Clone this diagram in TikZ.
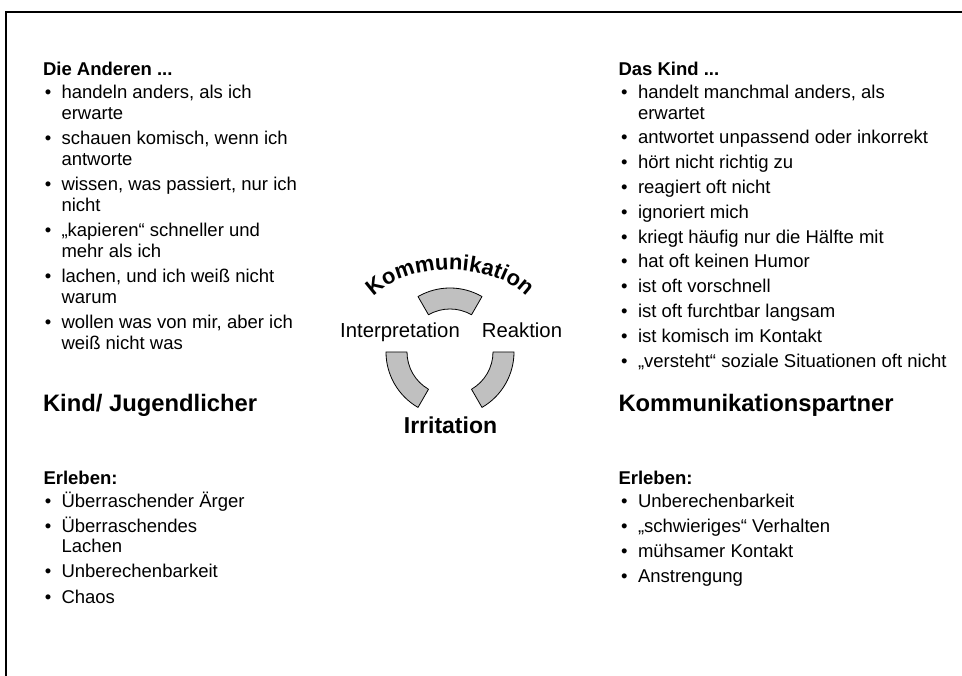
\documentclass[tikz,border=0pt]{standalone}
\usepackage{fontspec}
\setmainfont{Liberation Sans}
\usetikzlibrary{calc,decorations.text}
\definecolor{segfill}{RGB}{192,192,192}
\newcommand\kommfont{\fontsize{22}{26}\selectfont\bfseries}
\begin{document}
\begin{tikzpicture}[x=1pt,y=-1pt,
  txt/.style={anchor=base west, inner sep=0pt, outer sep=0pt, font=\fontsize{18.5}{21}\selectfont},
  txtb/.style={txt, font=\fontsize{18.5}{21}\selectfont\bfseries},
  headline/.style={anchor=base west, inner sep=0pt, outer sep=0pt, font=\fontsize{23.8}{28}\selectfont\bfseries},
  cyclab/.style={anchor=base, inner sep=0pt, outer sep=0pt, font=\fontsize{20.3}{24}\selectfont},
  cyclabb/.style={cyclab, font=\fontsize{23}{27}\selectfont\bfseries},
  segment/.style={fill=segfill, draw=black, line width=0.8pt, line join=round},
  frameline/.style={line width=1.5pt}]

\useasboundingbox (0,0) rectangle (962,676);

% frame: top and left edge
\coordinate (ftr) at (964,12);
\coordinate (ftl) at (6,12);
\coordinate (fbl) at (6,678);
\draw[frameline] (ftr) -- (ftl) -- (fbl);

% ---------- left upper list ----------
\node[txtb] (dah) at (43,75.5) {Die Anderen ...};
\node[txt] (lb1) at (45,99) {•};  \node[txt] (l1a) at (61.5,99) {handeln anders, als ich};
\node[txt] (l1b) at (61.5,120) {erwarte};
\node[txt] (lb2) at (45,145) {•}; \node[txt] (l2a) at (61.5,145) {schauen komisch, wenn ich};
\node[txt] (l2b) at (61.5,166) {antworte};
\node[txt] (lb3) at (45,191) {•}; \node[txt] (l3a) at (61.5,191) {wissen, was passiert, nur ich};
\node[txt] (l3b) at (61.5,212) {nicht};
\node[txt] (lb4) at (45,237) {•}; \node[txt] (l4a) at (61.5,237) {„kapieren“ schneller und};
\node[txt] (l4b) at (61.5,258) {mehr als ich};
\node[txt] (lb5) at (45,283) {•}; \node[txt] (l5a) at (61.5,283) {lachen, und ich weiß nicht};
\node[txt] (l5b) at (61.5,304) {warum};
\node[txt] (lb6) at (45,329) {•}; \node[txt] (l6a) at (61.5,329) {wollen was von mir, aber ich};
\node[txt] (l6b) at (61.5,350) {weiß nicht was};

% ---------- right upper list ----------
\node[txtb] (dkh) at (618.5,75.5) {Das Kind ...};
\node[txt] (rb1) at (621,99) {•}; \node[txt] (r1a) at (638,99) {handelt manchmal anders, als};
\node[txt] (r1b) at (638,120) {erwartet};
\node[txt] (rb2) at (621,144) {•}; \node[txt] (r2) at (638,144) {antwortet unpassend oder inkorrekt};
\node[txt] (rb3) at (621,168.8) {•}; \node[txt] (r3) at (638,168.8) {hört nicht richtig zu};
\node[txt] (rb4) at (621,193.6) {•}; \node[txt] (r4) at (638,193.6) {reagiert oft nicht};
\node[txt] (rb5) at (621,218.4) {•}; \node[txt] (r5) at (638,218.4) {ignoriert mich};
\node[txt] (rb6) at (621,243.2) {•}; \node[txt] (r6) at (638,243.2) {kriegt häufig nur die Hälfte mit};
\node[txt] (rb7) at (621,268) {•}; \node[txt] (r7) at (638,268) {hat oft keinen Humor};
\node[txt] (rb8) at (621,292.8) {•}; \node[txt] (r8) at (638,292.8) {ist oft vorschnell};
\node[txt] (rb9) at (621,317.6) {•}; \node[txt] (r9) at (638,317.6) {ist oft furchtbar langsam};
\node[txt] (rb10) at (621,342.4) {•}; \node[txt] (r10) at (638,342.4) {ist komisch im Kontakt};
\node[txt] (rb11) at (621,367.2) {•}; \node[txt] (r11) at (638,367.2) {„versteht“ soziale Situationen oft nicht};

% ---------- headings ----------
\node[headline] (kjh) at (43,412) {Kind/ Jugendlicher};
\node[headline] (kph) at (618.5,412) {Kommunikationspartner};

% ---------- left lower list ----------
\node[txtb] (leh) at (43.5,484.5) {Erleben:};
\node[txt] (llb1) at (45,507) {•}; \node[txt] (ll1) at (61.5,507) {Überraschender Ärger};
\node[txt] (llb2) at (45,532) {•}; \node[txt] (ll2a) at (61.5,532) {Überraschendes};
\node[txt] (ll2b) at (61.5,552) {Lachen};
\node[txt] (llb3) at (45,577) {•}; \node[txt] (ll3) at (61.5,577) {Unberechenbarkeit};
\node[txt] (llb4) at (45,603) {•}; \node[txt] (ll4) at (61.5,603) {Chaos};

% ---------- right lower list ----------
\node[txtb] (reh) at (618.5,484.5) {Erleben:};
\node[txt] (rlb1) at (621,507) {•}; \node[txt] (rl1) at (638,507) {Unberechenbarkeit};
\node[txt] (rlb2) at (621,532) {•}; \node[txt] (rl2) at (638,532) {„schwieriges“ Verhalten};
\node[txt] (rlb3) at (621,557) {•}; \node[txt] (rl3) at (638,557) {mühsamer Kontakt};
\node[txt] (rlb4) at (621,582) {•}; \node[txt] (rl4) at (638,582) {Anstrengung};

% ---------- communication cycle ----------
\coordinate (rc) at (450,352);
\draw[segment] ($(rc)+(60:64pt)$) arc[start angle=60,end angle=120,radius=64pt]
  -- ($(rc)+(120:43pt)$) arc[start angle=120,end angle=60,radius=43pt] -- cycle;
\draw[segment] ($(rc)+(180:64pt)$) arc[start angle=180,end angle=240,radius=64pt]
  -- ($(rc)+(240:43pt)$) arc[start angle=240,end angle=180,radius=43pt] -- cycle;
\draw[segment] ($(rc)+(300:64pt)$) arc[start angle=300,end angle=360,radius=64pt]
  -- ($(rc)+(360:43pt)$) arc[start angle=360,end angle=300,radius=43pt] -- cycle;

\node[cyclab] (interp) at (400,337.5) {Interpretation};
\node[cyclab] (reakt) at (522,337.5) {Reaktion};
\node[cyclabb] (irrit) at (450.5,433.3) {Irritation};

% arched title above the cycle, set along an elliptic arc
\coordinate (kc) at (450,323);
\path[decorate, decoration={text along path, text={|\kommfont|Kommunikation}, text align=center}]
  ($(kc)+(165:88pt and 53pt)$) arc[start angle=165,end angle=15,x radius=88pt,y radius=53pt];

\end{tikzpicture}
\end{document}
